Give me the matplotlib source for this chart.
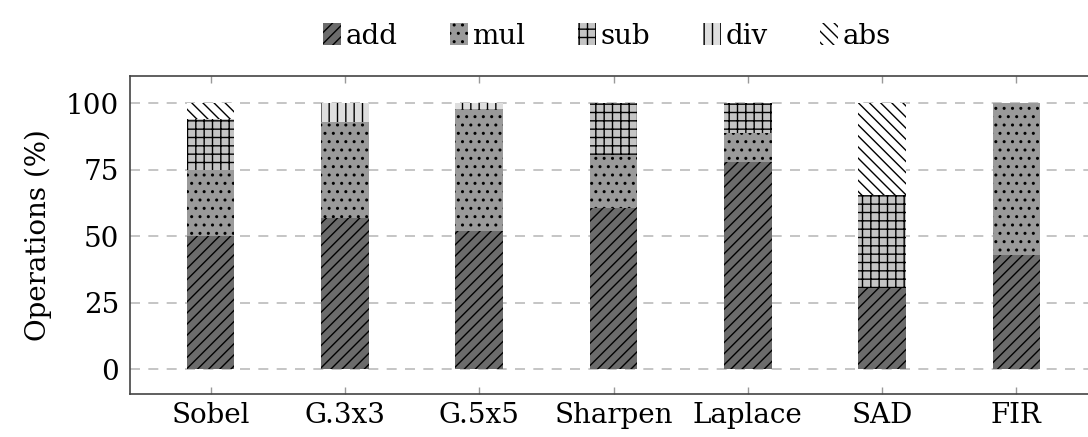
import numpy as np
import matplotlib
matplotlib.use("Agg")
import matplotlib.pyplot as plt
from matplotlib.patches import Patch

# operation mix per kernel, in percent
kernels = ['Sobel', 'G.3x3', 'G.5x5', 'Sharpen', 'Laplace', 'SAD', 'FIR']
add_ops = [50, 57, 52, 60.5, 78, 30.5, 43]
mul_ops = [25, 36, 46, 20, 11, 0, 57]
sub_ops = [19, 0, 0, 19.5, 11, 35, 0]
div_ops = [0, 7, 2, 0, 0, 0, 0]
abs_ops = [6, 0, 0, 0, 0, 34.5, 0]

series = [('add', add_ops, '#6b6b6b', '///'),
          ('mul', mul_ops, '#9a9a9a', '..'),
          ('sub', sub_ops, '#c4c4c4', '++'),
          ('div', div_ops, '#dedede', '||'),
          ('abs', abs_ops, '#ffffff', '\\\\\\')]

plt.rcParams['font.family'] = ['DejaVu Serif']
plt.rcParams['hatch.linewidth'] = 1.0

fig = plt.figure(figsize=(10.88, 4.37), dpi=100)
ax = fig.add_axes([130 / 1088, 43 / 437, 967 / 1088, 318 / 437])

x = np.arange(len(kernels))
bottom = np.zeros(len(kernels))
handles = []
for name, vals, col, hatch in series:
    vals = np.array(vals, dtype=float)
    ax.bar(x, vals, 0.355, bottom=bottom, color=col, edgecolor='black',
           linewidth=0, hatch=hatch, zorder=3)
    bottom += vals
    handles.append(Patch(facecolor=col, edgecolor='black', linewidth=0,
                         hatch=hatch, label=name))

ax.set_xlim(-0.6, 6.6)
ax.set_ylim(-9.4, 110.3)
ax.set_yticks([0, 25, 50, 75, 100])
ax.set_xticks(x)
ax.set_xticklabels(kernels)
ax.tick_params(axis='y', length=0, labelsize=20, pad=8)
ax.tick_params(axis='x', direction='in', top=True, length=5, width=1,
               color='#999999', labelsize=20, pad=6)
ax.yaxis.grid(True, linestyle=(0, (6, 5)), color='#bbbbbb', linewidth=1.2,
              zorder=0)
ax.set_ylabel('Operations (%)', fontsize=20, labelpad=10)
for s in ax.spines.values():
    s.set_color('#444444')
    s.set_linewidth(1.2)

fig.legend(handles=handles, loc='center', ncol=5, frameon=False,
           bbox_to_anchor=(607 / 1088, 1 - 36 / 437), fontsize=20,
           handlelength=0.65, handleheight=0.85, handletextpad=0.15,
           columnspacing=1.9)

fig.savefig('out.png', dpi=100)
